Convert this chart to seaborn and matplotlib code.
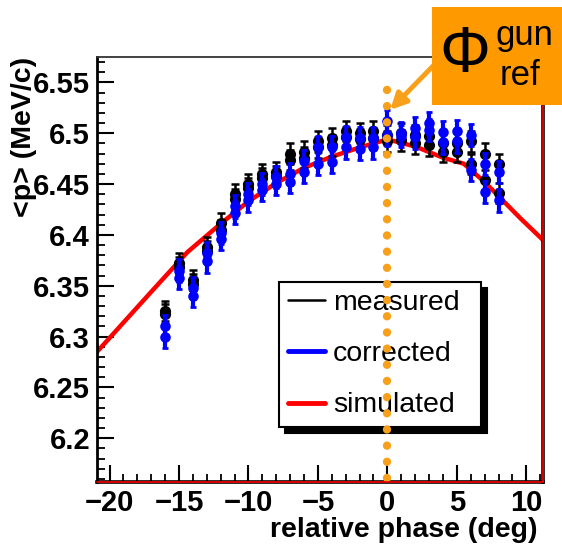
import numpy as np
import pandas as pd
import matplotlib
matplotlib.use("Agg")
import matplotlib.pyplot as plt
import seaborn as sns
from matplotlib.lines import Line2D
from matplotlib.patches import Rectangle
from matplotlib.ticker import MultipleLocator, FixedLocator, FixedFormatter

# ---------------- data ----------------
phase = [-16, -15, -14, -13, -12, -11, -10, -9, -8, -7, -6, -5, -4,
         -3, -2, -1, 0, 1, 2, 3, 4, 5, 6, 7, 8]

measured_a = [6.325, 6.372, 6.356, 6.388, 6.412, 6.440, 6.450, 6.460, 6.462,
              6.480, 6.482, 6.492, 6.495, 6.502, 6.500, 6.502, 6.498, 6.500,
              6.498, 6.497, 6.490, 6.490, 6.492, 6.480, 6.470]
measured_b = [6.322, 6.368, 6.352, 6.384, 6.405, 6.435, 6.446, 6.456, 6.458,
              6.474, 6.476, 6.486, 6.488, 6.496, 6.494, 6.495, 6.492, 6.493,
              6.490, 6.488, 6.482, 6.482, 6.470, 6.454, 6.441]
corrected_a = [6.310, 6.365, 6.348, 6.382, 6.402, 6.428, 6.440, 6.450, 6.457,
               6.460, 6.473, 6.486, 6.486, 6.496, 6.495, 6.495, 6.512, 6.500,
               6.505, 6.510, 6.501, 6.502, 6.498, 6.470, 6.462]
corrected_b = [6.300, 6.358, 6.340, 6.374, 6.396, 6.422, 6.434, 6.444, 6.450,
               6.452, 6.462, 6.470, 6.472, 6.486, 6.485, 6.486, 6.498, 6.497,
               6.496, 6.503, 6.491, 6.492, 6.464, 6.442, 6.434]
err_measured = 0.010
err_corrected = 0.011

sim_phase = [-20.9, -17.0, -14.4, -12.0, -10.0, -8.0, -6.0, -4.0, -2.0, 0.0,
             2.0, 4.0, 5.5, 7.0, 9.6, 11.2]
sim_p = [6.285, 6.344, 6.383, 6.411, 6.433, 6.451, 6.466, 6.477, 6.486, 6.494,
         6.487, 6.476, 6.470, 6.452, 6.416, 6.395]

xticks = [-20, -15, -10, -5, 0, 5, 10]
yticks = [6.2, 6.25, 6.3, 6.35, 6.4, 6.45, 6.5, 6.55]
ytick_labels = ["6.2", "6.25", "6.3", "6.35", "6.4", "6.45", "6.5", "6.55"]
legend_labels = ["measured", "corrected", "simulated"]

# ---------------- style ----------------
sns.set_theme(style="ticks")
plt.rcParams['font.family'] = ['Liberation Sans', 'DejaVu Sans']
plt.rcParams['font.weight'] = 'bold'
plt.rcParams['text.color'] = 'black'
plt.rcParams['axes.labelcolor'] = 'black'
plt.rcParams['xtick.color'] = 'black'
plt.rcParams['ytick.color'] = 'black'

W, H = 562, 547
fig = plt.figure(figsize=(W / 100, H / 100), dpi=100)
fig.patch.set_facecolor('white')
ax = fig.add_axes([97 / W, 1 - 482 / H, 446 / W, 425 / H])
ax.set_facecolor('white')

XMIN, XMAX = -20.9, 11.2
YMIN, YMAX = 6.157, 6.575

# simulated line
sim_df = pd.DataFrame({'phase': sim_phase, 'p': sim_p})
sns.lineplot(data=sim_df, x='phase', y='p', color='red', lw=3.2, ax=ax,
             sort=False, zorder=2, legend=False)

# measured (black)
for vals in (measured_a, measured_b):
    ax.errorbar(phase, vals, yerr=err_measured, fmt='none', ecolor='black',
                elinewidth=1.8, capsize=3, capthick=1.8, zorder=3)
meas_df = pd.DataFrame({'phase': phase * 2, 'p': measured_a + measured_b})
sns.scatterplot(data=meas_df, x='phase', y='p', color='black', s=65,
                edgecolor='black', linewidth=0, ax=ax, zorder=4, legend=False)

# corrected (blue)
for vals in (corrected_a, corrected_b):
    ax.errorbar(phase, vals, yerr=err_corrected, fmt='none', ecolor='#0000FF',
                elinewidth=3.0, capsize=2, capthick=2.0, zorder=5)
corr_df = pd.DataFrame({'phase': phase * 2, 'p': corrected_a + corrected_b})
sns.scatterplot(data=corr_df, x='phase', y='p', color='#0000FF', s=58,
                edgecolor='#0000FF', linewidth=0, ax=ax, zorder=6, legend=False)

# orange dotted reference line
ax.plot([0, 0], [YMIN + 0.004, 6.545], color='#F9A01B', lw=6.0,
        linestyle=(0, (0.01, 1.93)), dash_capstyle='round', zorder=8,
        clip_on=False)

ax.set_xlim(XMIN, XMAX)
ax.set_ylim(YMIN, YMAX)

# ticks
ax.xaxis.set_major_locator(FixedLocator(xticks))
ax.xaxis.set_minor_locator(MultipleLocator(1))
ax.yaxis.set_major_locator(FixedLocator(yticks))
ax.yaxis.set_major_formatter(FixedFormatter(ytick_labels))
ax.yaxis.set_minor_locator(MultipleLocator(0.01))
ax.tick_params(which='major', direction='in', length=12, width=1.5,
               labelsize=21, pad=5, top=False, right=False, colors='black')
ax.tick_params(which='minor', direction='in', length=6, width=1.3,
               top=False, right=False, colors='black')
for lab in ax.get_xticklabels() + ax.get_yticklabels():
    lab.set_fontweight('bold')

# spines
ax.spines['top'].set_color('#333333')
ax.spines['top'].set_linewidth(1.3)
ax.spines['left'].set_color('black')
ax.spines['left'].set_linewidth(2.0)
ax.spines['bottom'].set_color('black')
ax.spines['bottom'].set_linewidth(2.6)
ax.spines['right'].set_color('black')
ax.spines['right'].set_linewidth(2.6)
ax.axvline(XMAX, color='red', lw=1.2, zorder=9, clip_on=False)
ax.axhline(YMIN, color='red', lw=1.2, zorder=9, clip_on=False)

# axis labels
ax.set_xlabel('relative phase (deg)', fontsize=20.5, fontweight='bold',
              color='black')
ax.xaxis.set_label_coords((538 - 97) / 446, -0.082)
ax.xaxis.label.set_horizontalalignment('right')
ax.set_ylabel('<p> (MeV/c)', fontsize=20.5, fontweight='bold', color='black')
ax.yaxis.set_label_coords(-0.135, 1.0)
ax.yaxis.label.set_horizontalalignment('right')

# legend
handles = [Line2D([], [], color='black', lw=1.8),
           Line2D([], [], color='#0000FF', lw=3.5),
           Line2D([], [], color='red', lw=3.5)]
leg = ax.legend(handles, legend_labels, loc='upper left',
                bbox_to_anchor=(0.408, 0.129, 0.453, 0.342), mode='expand',
                frameon=True, fancybox=False, framealpha=1,
                edgecolor='black',
                shadow={'ox': 4.3, 'oy': -4.3, 'color': 'black', 'alpha': 1},
                prop={'size': 20.5, 'weight': 'normal'},
                handlelength=1.3, handletextpad=0.3, labelspacing=0.88,
                borderpad=0.3, borderaxespad=0)
leg.get_frame().set_linewidth(1.5)
leg.set_zorder(7)
for t in leg.get_texts():
    t.set_color('black')

# annotation box
fig.add_artist(Rectangle((432 / W, 1 - 105 / H), (W - 432) / W, 98 / H,
                         transform=fig.transFigure, facecolor='#FF9900',
                         edgecolor='none', zorder=10))
fig.text(465 / W, 1 - 55 / H, 'Φ', fontsize=46, fontweight='normal',
         ha='center', va='center', color='black', zorder=11)
fig.text(524 / W, 1 - 36 / H, 'gun', fontsize=25, fontweight='normal',
         ha='center', va='center', color='black', zorder=11)
fig.text(520 / W, 1 - 76 / H, 'ref', fontsize=25, fontweight='normal',
         ha='center', va='center', color='black', zorder=11)

ax.annotate('', xy=(0.2, 6.523), xycoords='data',
            xytext=(433, H - 66), textcoords='figure pixels',
            arrowprops=dict(arrowstyle='-|>', color='#F9A01B', lw=3.5,
                            mutation_scale=24, shrinkA=0, shrinkB=0),
            annotation_clip=False, zorder=12)

fig.savefig('out.png', dpi=100, facecolor='white')
